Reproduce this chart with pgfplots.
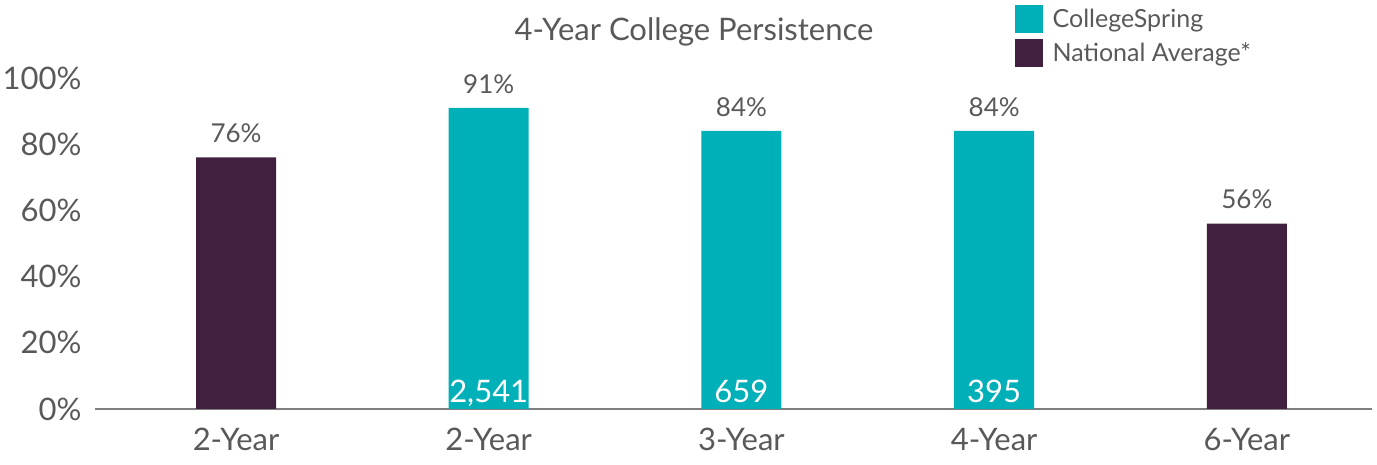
\documentclass[border=0pt]{standalone}
\usepackage{pgfplots}
\pgfplotsset{compat=1.18}
\usepackage{fontspec}
\setmainfont{Lato}
\definecolor{teal}{HTML}{00B0B9}
\definecolor{plum}{HTML}{41203F}
\definecolor{txt}{HTML}{595959}
\definecolor{axl}{HTML}{7F7F7F}
\begin{document}
\begin{tikzpicture}
\begin{axis}[
  at={(0,0)}, anchor=south west,
  scale only axis,
  width=1277pt, height=331pt,
  xmin=-0.558, xmax=4.495,
  ymin=0, ymax=100,
  ybar, bar width=80pt,
  axis x line*=bottom, axis y line*=left,
  y axis line style={draw=none},
  x axis line style={-, draw=axl, line width=2pt},
  major tick length=0pt,
  xtick={0,1,2,3,4},
  xticklabels={2-Year,2-Year,3-Year,4-Year,6-Year},
  ytick={0,20,40,60,80,100},
  yticklabel={\pgfmathprintnumber{\tick}\%},
  /pgf/number format/assume math mode=true,
  tick label style={font=\fontsize{31}{36}\selectfont, text=txt},
  xticklabel style={yshift=-16pt},
  yticklabel style={xshift=-10pt},
  nodes near coords={\pgfmathprintnumber{\pgfplotspointmeta}\%},
  every node near coord/.append style={font=\fontsize{26}{30}\selectfont, text=txt, yshift=11pt},
  legend style={at={(rel axis cs:0.72,1.0)}, anchor=north west, yshift=73pt, draw=none, fill=none,
    font=\fontsize{25}{28}\selectfont, text=txt, row sep=6pt, inner sep=0pt,
    legend cell align=left},
  legend image code/.code={\fill[#1] (0pt,-14pt) rectangle (28pt,14pt); \path (36pt,0pt);},
  clip=false,
]
\addplot[fill=teal, draw=none, bar shift=0pt] coordinates {(1,91) (2,84) (3,84)};
\addlegendentry{CollegeSpring}
\addplot[fill=plum, draw=none, bar shift=0pt] coordinates {(0,76) (4,56)};
\addlegendentry{National Average*}
\node[font=\fontsize{31}{36}\selectfont, text=white, anchor=base] at (axis cs:1,0) [yshift=6pt] {2,541};
\node[font=\fontsize{31}{36}\selectfont, text=white, anchor=base] at (axis cs:2,0) [yshift=6pt] {659};
\node[font=\fontsize{31}{36}\selectfont, text=white, anchor=base] at (axis cs:3,0) [yshift=6pt] {395};
\end{axis}
\node[font=\fontsize{31}{34}\selectfont, text=txt] at (599pt,377pt) {4-Year College Persistence};
\pgfresetboundingbox
\path[use as bounding box] (-95pt,-56pt) rectangle (1282pt,409pt);
\end{tikzpicture}
\end{document}
